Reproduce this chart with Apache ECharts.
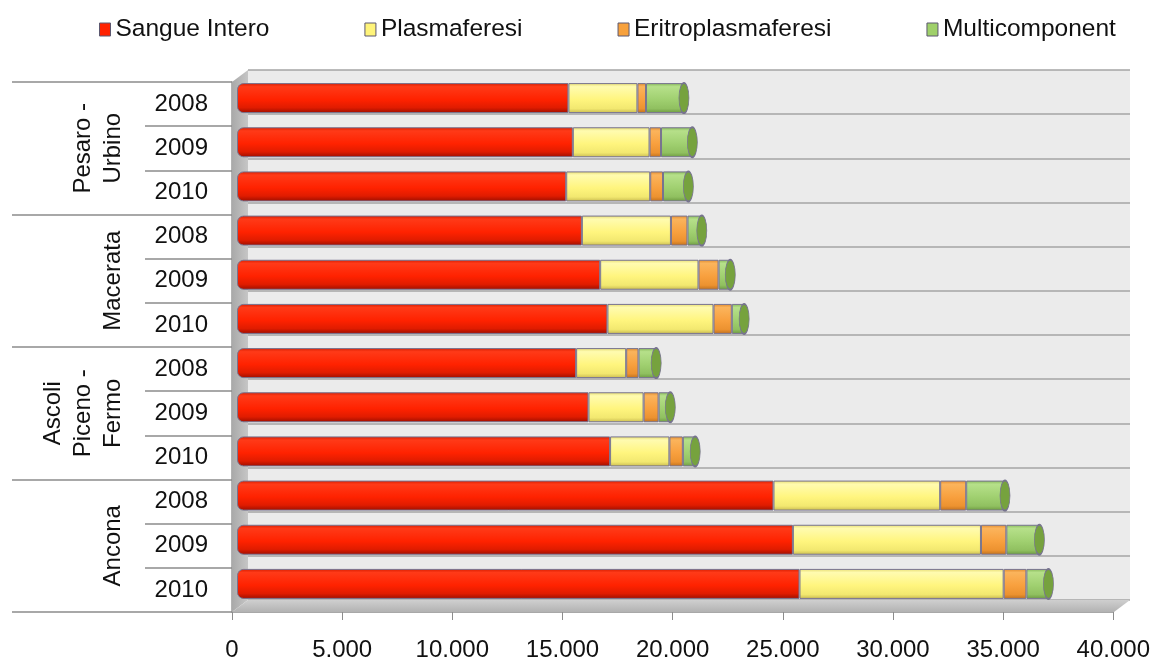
<!DOCTYPE html>
<html>
<head>
<meta charset="utf-8">
<script src="https://cdn.jsdelivr.net/npm/echarts@6/dist/echarts.min.js"></script>
<style>
  html, body { margin: 0; padding: 0; background: #ffffff; }
  #chart { width: 1153px; height: 664px; }
</style>
</head>
<body>
<div id="chart"></div>
<script>
// Donations by province and year, stacked by donation type
const years = ['2008', '2009', '2010'];
const groups = ['Pesaro -\nUrbino', 'Macerata', 'Ascoli\nPiceno -\nFermo', 'Ancona'];
const seriesNames = ['Sangue Intero', 'Plasmaferesi', 'Eritroplasmaferesi', 'Multicomponent'];

const sangueIntero       = [15030, 15230, 14930, 15640, 16470, 16800, 15380, 15940, 16920, 24330, 25210, 25510];
const plasmaferesi       = [3130, 3480, 3810, 4040, 4460, 4810, 2270, 2500, 2690, 7560, 8530, 9260];
const eritroplasmaferesi = [390, 520, 580, 750, 910, 830, 560, 680, 610, 1180, 1150, 1030];
const multicomponent     = [1720, 1420, 1150, 650, 530, 560, 800, 530, 560, 1760, 1500, 1000];

const xMin = 0, xMax = 40000, xStep = 5000;

// one row per (province, year)
const rows = [];
groups.forEach((g, gi) => years.forEach(y => rows.push(gi + '|' + y)));
const totals = rows.map((_, i) =>
  sangueIntero[i] + plasmaferesi[i] + eritroplasmaferesi[i] + multicomponent[i]);

const FONT = '"Liberation Sans", Arial, Helvetica, sans-serif';

// 3D box geometry: front plane, bar plane, back wall
const FRONT = { left: 232, top: 82, width: 882, height: 530 };
const BARS  = { left: 237, top: 76, width: 882, height: 530 };
const BACK  = { left: 248, top: 70, width: 882, height: 530 };

function grad(stops) {
  return new echarts.graphic.LinearGradient(0, 0, 0, 1,
    stops.map(s => ({ offset: s[0], color: s[1] })));
}

const styles = [
  { solid: '#ff2200', fill: grad([[0, '#d61c00'], [0.12, '#ff3a18'], [0.55, '#ff2200'], [0.82, '#e01c00'], [1, '#9c0e00']]) },
  { solid: '#fff47a', fill: grad([[0, '#e6dc70'], [0.12, '#fffbb0'], [0.55, '#fff57e'], [0.85, '#f2e870'], [1, '#c9bb50']]) },
  { solid: '#f7a13c', fill: grad([[0, '#e08a2c'], [0.12, '#fbb45c'], [0.55, '#f8a03e'], [0.85, '#ec9230'], [1, '#c0701c']]) },
  { solid: '#9fd06a', fill: grad([[0, '#86b858'], [0.12, '#b6e08a'], [0.55, '#a0d070'], [0.85, '#90c060'], [1, '#6c9a40']]) }
];
const values = [sangueIntero, plasmaferesi, eritroplasmaferesi, multicomponent];

const barSeries = seriesNames.map((name, k) => ({
  name,
  type: 'bar',
  stack: 'tot',
  xAxisIndex: 1,
  yAxisIndex: 2,
  barWidth: 30,
  data: values[k],
  itemStyle: {
    color: styles[k].fill,
    borderColor: '#77738f',
    borderWidth: 1,
    borderRadius: k === 0 ? [6, 0, 0, 6] : 0
  },
  emphasis: { disabled: true }
}));

// elliptical end cap of each cylinder
const capSeries = {
  name: 'cap',
  type: 'scatter',
  xAxisIndex: 1,
  yAxisIndex: 2,
  symbol: 'circle',
  symbolSize: [10, 30],
  data: totals,
  itemStyle: { color: '#76a23e', borderColor: '#77738f', borderWidth: 1.2, opacity: 1 },
  z: 3,
  emphasis: { disabled: true }
};

const fmt = v => String(v).replace(/\B(?=(\d{3})+(?!\d))/g, '.');

const hiddenX = gi => ({
  type: 'value', gridIndex: gi, min: xMin, max: xMax, interval: xStep,
  show: false, splitLine: { show: false }
});

const option = {
  animation: false,
  backgroundColor: '#ffffff',
  textStyle: { fontFamily: FONT },
  legend: {
    top: 12,
    left: 94,
    itemGap: 95,
    itemWidth: 11,
    itemHeight: 13,
    icon: 'rect',
    textStyle: { fontSize: 24.5, color: '#111', fontFamily: FONT },
    data: seriesNames.map((n, k) => ({
      name: n,
      itemStyle: { color: styles[k].solid, borderColor: '#5c5870', borderWidth: 1 }
    }))
  },
  grid: [
    Object.assign({}, FRONT),
    Object.assign({}, BARS),
    Object.assign({ show: true, backgroundColor: '#ebebeb', borderWidth: 0 }, BACK)
  ],
  xAxis: [
    {
      type: 'value', gridIndex: 0, min: xMin, max: xMax, interval: xStep,
      axisLine: { show: true, lineStyle: { color: '#8c8c8c', width: 1.5 } },
      axisTick: { show: true, length: 8, lineStyle: { color: '#8c8c8c', width: 1 } },
      axisLabel: { formatter: fmt, fontSize: 24, color: '#111', margin: 26, fontFamily: FONT },
      splitLine: { show: false }
    },
    hiddenX(1),
    hiddenX(2)
  ],
  yAxis: [
    {
      type: 'category', gridIndex: 0, inverse: true, data: rows,
      axisLine: { show: true, lineStyle: { color: '#9a9a9a', width: 1.5 } },
      axisTick: { show: true, length: 87, lineStyle: { color: '#8c8c8c', width: 1.5 } },
      axisLabel: {
        formatter: v => v.split('|')[1],
        fontSize: 24, color: '#111', margin: 24, fontFamily: FONT
      },
      splitLine: { show: false }
    },
    {
      type: 'category', gridIndex: 0, inverse: true, data: groups,
      position: 'left', offset: 87,
      axisLine: { show: false },
      axisTick: { show: true, length: 133, lineStyle: { color: '#8c8c8c', width: 1.5 } },
      axisLabel: {
        rotate: 90, fontSize: 24, color: '#111', margin: 17, lineHeight: 30,
        align: 'center', fontFamily: FONT
      },
      splitLine: { show: false }
    },
    {
      type: 'category', gridIndex: 1, inverse: true, data: rows, show: false
    },
    {
      type: 'category', gridIndex: 2, inverse: true, data: rows,
      axisLine: { show: false }, axisTick: { show: false }, axisLabel: { show: false },
      splitLine: { show: true, lineStyle: { color: '#a4a4a4', width: 1.5 } }
    }
  ],
  graphic: [
    {
      // side wall
      type: 'polygon', z: 1, silent: true,
      shape: { points: [
        [FRONT.left, FRONT.top], [BACK.left, BACK.top],
        [BACK.left, BACK.top + BACK.height], [FRONT.left, FRONT.top + FRONT.height]
      ] },
      style: { fill: new echarts.graphic.LinearGradient(0, 0, 1, 0, [
        { offset: 0, color: '#a9a9a9' }, { offset: 1, color: '#c6c6c6' }]) }
    },
    {
      // floor
      type: 'polygon', z: 1, silent: true,
      shape: { points: [
        [FRONT.left, FRONT.top + FRONT.height], [BACK.left, BACK.top + BACK.height],
        [BACK.left + BACK.width, BACK.top + BACK.height], [FRONT.left + FRONT.width, FRONT.top + FRONT.height]
      ] },
      style: { fill: new echarts.graphic.LinearGradient(0, 0, 0, 1, [
        { offset: 0, color: '#cfcfcf' }, { offset: 1, color: '#b2b2b2' }]) }
    }
  ],
  series: barSeries.concat([capSeries])
};

const chart = echarts.init(document.getElementById('chart'), null, { renderer: 'canvas' });
chart.setOption(option);
</script>
</body>
</html>
